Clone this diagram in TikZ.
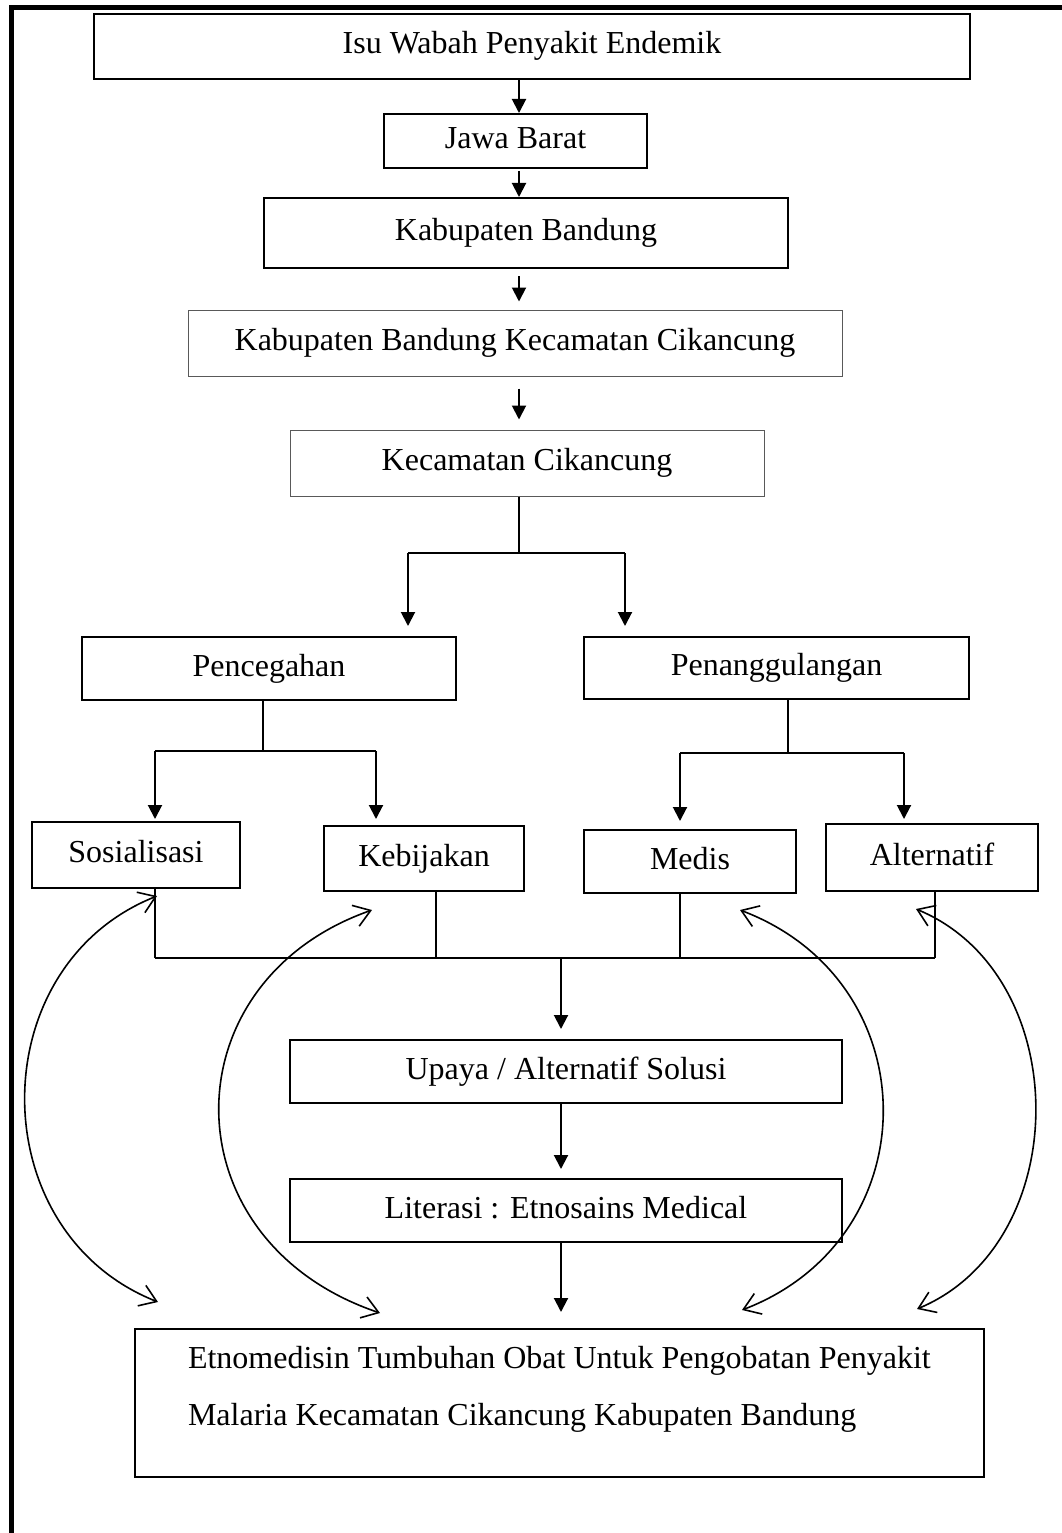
\documentclass[tikz,border=0pt]{standalone}
\usepackage{fontspec}
\setmainfont{Liberation Serif}
\usetikzlibrary{arrows.meta}

\begin{document}
\begin{tikzpicture}[x=1pt,y=-1pt,line width=2pt,
  font=\fontsize{32}{38}\selectfont,
  box/.style={draw,inner sep=0pt,text height=22pt,text depth=7pt},
  thinbox/.style={box,draw=black!65,line width=1pt},
  etnobox/.style={draw,align=left,inner xsep=53pt,inner ysep=17pt,
    font=\fontsize{32}{57}\selectfont,text depth=35pt},
  arr/.style={-{Triangle[length=14pt,width=14pt]}},
  dbl/.style={line width=1.6pt,
    {Straight Barb[length=16pt,width=22pt]}-{Straight Barb[length=16pt,width=22pt]}}]
  \useasboundingbox (0,0) rectangle (1061,1533);
  % frame
  \draw[line width=5pt] (11,1545) -- (11,7.5) -- (1075,7.5);

  % boxes
  \node[box,minimum width=876pt,minimum height=65pt] (isu) at (532,46.5) {Isu Wabah Penyakit Endemik};
  \node[box,minimum width=263pt,minimum height=54pt] (jabar) at (515.5,141) {Jawa Barat};
  \node[box,minimum width=524pt,minimum height=70pt] (kab) at (526,233) {Kabupaten Bandung};
  \node[thinbox,minimum width=654pt,minimum height=66pt] (kabkec) at (515,343) {Kabupaten Bandung Kecamatan Cikancung};
  \node[thinbox,minimum width=474pt,minimum height=66pt] (kec) at (527,463) {Kecamatan Cikancung};
  \node[box,minimum width=374pt,minimum height=63pt] (cegah) at (269,668.5) {Pencegahan};
  \node[box,minimum width=385pt,minimum height=62pt] (tanggul) at (776.5,668) {Penanggulangan};
  \node[box,minimum width=208pt,minimum height=66pt] (sos) at (136,855) {Sosialisasi};
  \node[box,minimum width=200pt,minimum height=65pt] (bijak) at (424,858.5) {Kebijakan};
  \node[box,minimum width=212pt,minimum height=63pt] (medis) at (690,861.5) {Medis};
  \node[box,minimum width=212pt,minimum height=67pt] (alt) at (932,857.5) {Alternatif};
  \node[box,minimum width=552pt,minimum height=63pt] (upaya) at (566,1071.5) {Upaya / Alternatif Solusi};
  \node[box,minimum width=552pt,minimum height=63pt] (lit) at (566,1210.5) {Literasi : Etnosains Medical};
  \node[etnobox,anchor=north west,minimum width=845pt] (etno) at (134,1328)
    {Etnomedisin Tumbuhan Obat Untuk Pengobatan Penyakit\\Malaria Kecamatan Cikancung Kabupaten Bandung};

  % top chain
  \coordinate (spine) at (519,0);
  \draw[arr] (spine |- isu.south) -- (spine |- jabar.north);
  \draw[arr,shorten <=2pt] (spine |- jabar.south) -- (spine |- kab.north);
  \draw[arr,shorten <=7pt,shorten >=8pt] (spine |- kab.south) -- (spine |- kabkec.north);
  \draw[arr,shorten <=12pt,shorten >=10pt] (spine |- kabkec.south) -- (spine |- kec.north);

  % split below kecamatan
  \coordinate (kecM) at (519,553);
  \coordinate (kecL) at (408,553);
  \coordinate (kecR) at (625,553);
  \draw (kec.south -| kecM) -- (kecM);
  \draw (kecL) -- (kecR);
  \draw[arr,shorten >=10pt] (kecL) -- (kecL |- cegah.north);
  \draw[arr,shorten >=10pt] (kecR) -- (kecR |- tanggul.north);

  % split below pencegahan
  \coordinate (cegM) at (263,751);
  \coordinate (cegL) at (155,751);
  \coordinate (cegR) at (376,751);
  \draw (cegah.south -| cegM) -- (cegM);
  \draw (cegL) -- (cegR);
  \draw[arr,shorten >=2pt] (cegL) -- (cegL |- sos.north);
  \draw[arr,shorten >=6pt] (cegR) -- (cegR |- bijak.north);

  % split below penanggulangan
  \coordinate (tgM) at (788,753);
  \coordinate (tgL) at (680,753);
  \coordinate (tgR) at (904,753);
  \draw (tanggul.south -| tgM) -- (tgM);
  \draw (tgL) -- (tgR);
  \draw[arr,shorten >=8pt] (tgL) -- (tgL |- medis.north);
  \draw[arr,shorten >=4pt] (tgR) -- (tgR |- alt.north);

  % collector line
  \foreach \n/\x in {sos/155,bijak/436,medis/680,alt/935}{
    \coordinate (bus-\n) at (\x,958);
    \draw (bus-\n) -- (bus-\n |- \n.south);
  }
  \draw (bus-sos) -- (bus-alt);
  \coordinate (busM) at (561,958);
  \draw[arr,shorten >=10pt] (busM) -- (busM |- upaya.north);
  \draw[arr,shorten >=9pt] (busM |- upaya.south) -- (busM |- lit.north);
  \draw[arr,shorten >=16pt] (busM |- lit.south) -- (busM |- etno.north);

  % curved two-way arrows
  \coordinate (aT) at (157,896);  \coordinate (aB) at (158,1302);
  \coordinate (bT) at (372,910);  \coordinate (bB) at (380,1313);
  \coordinate (cT) at (740,910);  \coordinate (cB) at (742,1310);
  \coordinate (dT) at (916,909);  \coordinate (dB) at (917,1309);
  \draw[dbl] (aT) .. controls (-19,966) and (-19,1232) .. (aB);
  \draw[dbl] (bT) .. controls (167,982) and (167,1241) .. (bB);
  \draw[dbl] (cT) .. controls (930,982) and (930,1238) .. (cB);
  \draw[dbl] (dT) .. controls (1075,975) and (1075,1243) .. (dB);
\end{tikzpicture}
\end{document}
